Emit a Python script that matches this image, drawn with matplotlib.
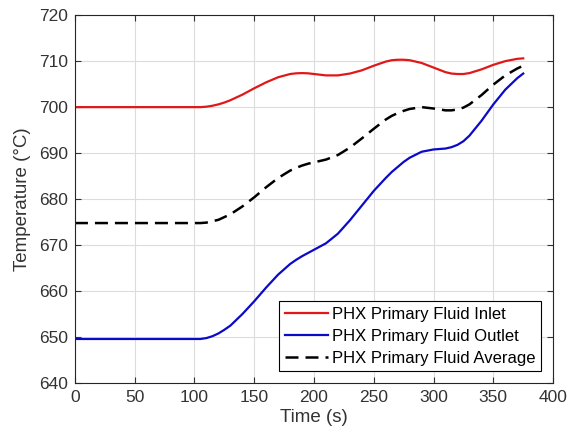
import matplotlib
matplotlib.use("Agg")
import matplotlib.pyplot as plt

plt.rcParams['font.family'] = ['Liberation Sans', 'DejaVu Sans']

time = [0, 100, 105, 110, 115, 120, 125, 130, 140, 150, 160, 170, 180, 185, 190, 195,
        200, 210, 220, 230, 240, 250, 260, 265, 270, 275, 280, 290, 300, 310, 315,
        320, 325, 330, 340, 350, 360, 370, 375]
inlet = [700.0, 700.0, 700.0, 700.1, 700.3, 700.6, 701.0, 701.5, 702.7, 704.1,
         705.4, 706.5, 707.2, 707.35, 707.4, 707.35, 707.2, 706.9, 706.9, 707.3,
         708.0, 709.0, 709.9, 710.2, 710.3, 710.3, 710.2, 709.6, 708.6, 707.6,
         707.3, 707.2, 707.2, 707.4, 708.2, 709.2, 710.0, 710.5, 710.6]
outlet = [649.6, 649.6, 649.6, 649.8, 650.2, 650.8, 651.6, 652.5, 655.0, 657.8,
          660.8, 663.6, 665.9, 666.8, 667.6, 668.3, 669.0, 670.4, 672.5, 675.4,
          678.6, 681.8, 684.6, 685.9, 687.0, 688.1, 689.0, 690.3, 690.8, 691.0,
          691.3, 691.8, 692.6, 693.8, 697.0, 700.6, 703.8, 706.3, 707.3]
average = [674.8, 674.8, 674.8, 674.9, 675.2, 675.5, 676.1, 676.7, 678.4, 680.4,
           682.6, 684.6, 686.2, 686.8, 687.3, 687.7, 688.0, 688.6, 689.6, 691.2,
           693.2, 695.3, 697.3, 698.1, 698.7, 699.2, 699.6, 700.0, 699.7, 699.3,
           699.3, 699.5, 699.9, 700.6, 702.6, 704.9, 706.9, 708.4, 709.0]

labels = ['PHX Primary Fluid Inlet', 'PHX Primary Fluid Outlet', 'PHX Primary Fluid Average']

fig = plt.figure(figsize=(5.72, 4.45), dpi=100)
ax = fig.add_axes([0.131, 0.139, 0.836, 0.827])

ax.plot(time, inlet, color='#e01818', lw=1.6, label=labels[0])
ax.plot(time, outlet, color='#0a0ac8', lw=1.6, label=labels[1])
ax.plot(time, average, color='black', lw=1.8, ls=(0, (5.2, 2.8)), label=labels[2])

ax.set_xlim(0, 400)
ax.set_ylim(640, 720)
ax.set_xticks(range(0, 401, 50))
ax.set_yticks(range(640, 721, 10))
ax.grid(True, color='#dcdcdc', lw=0.8)
ax.set_axisbelow(True)
ax.tick_params(direction='in', top=True, right=True, labelsize=12.5,
               colors='#333333', length=4, width=0.8, pad=5)
for s in ax.spines.values():
    s.set_color('#262626')
    s.set_linewidth(0.8)

ax.set_xlabel('Time (s)', fontsize=13.5, color='#333333', labelpad=3)
ax.set_ylabel('Temperature (\u00b0C)', fontsize=13.5, color='#333333', labelpad=6)

leg = ax.legend(loc='lower right', fontsize=12, frameon=True, fancybox=False,
                edgecolor='black', framealpha=1, handlelength=2.6,
                handletextpad=0.25, borderpad=0.35, labelspacing=0.4,
                borderaxespad=0.7)
leg.get_frame().set_linewidth(0.8)

fig.savefig('out.png', dpi=100)
